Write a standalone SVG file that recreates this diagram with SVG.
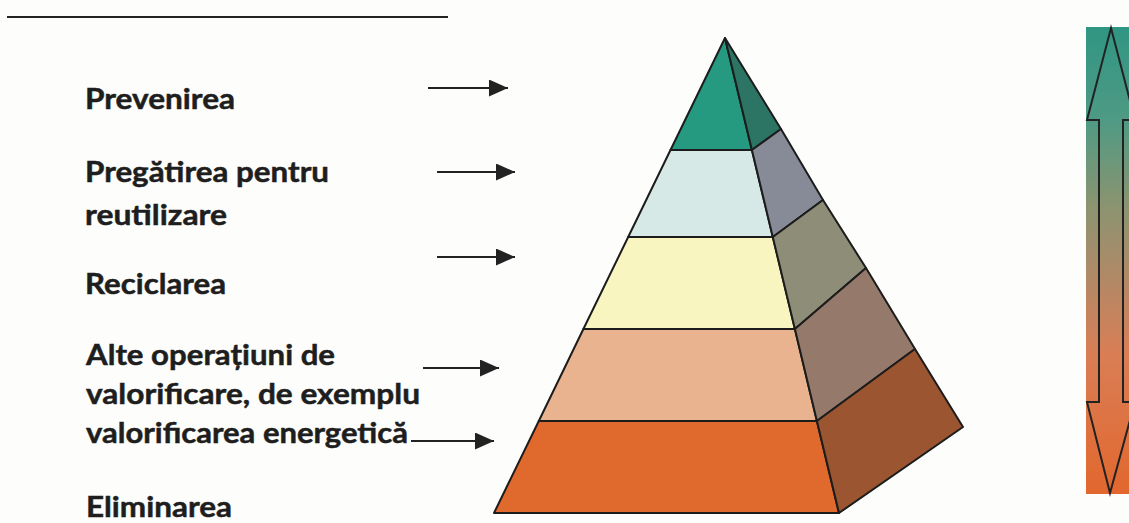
<svg xmlns="http://www.w3.org/2000/svg" width="1129" height="523" viewBox="0 0 1129 523">
  <defs>
    <linearGradient id="barGrad" x1="0" y1="0" x2="0" y2="1">
      <stop offset="0" stop-color="#2f9683"/>
      <stop offset="0.2" stop-color="#4f9a84"/>
      <stop offset="0.38" stop-color="#8a9470"/>
      <stop offset="0.52" stop-color="#ad8a68"/>
      <stop offset="0.7" stop-color="#d97e55"/>
      <stop offset="1" stop-color="#e2672e"/>
    </linearGradient>
    <marker id="ah" markerUnits="userSpaceOnUse" markerWidth="19" markerHeight="17" refX="19" refY="8.5" orient="auto">
      <path d="M0,0 L19,8.5 L0,17 z" fill="#222"/>
    </marker>
    <style>
      .lbl { font-family: Lato, "Open Sans", "Liberation Sans", sans-serif; font-weight: bold; font-size: 29px; fill: #1e1e1e; stroke: #1e1e1e; stroke-width: 0.5px; }
      .edge { stroke: #1c1c1c; stroke-width: 2; stroke-linejoin: round; }
      .conn { stroke: #222; stroke-width: 2; fill: none; marker-end: url(#ah); }
    </style>
  </defs>
  <rect width="1129" height="523" fill="#fdfdfb"/>
  <line x1="7" y1="17" x2="448" y2="17" stroke="#222" stroke-width="2.2"/>

  <g id="label-prevenirea"><text class="lbl" x="85" y="109" textLength="150" lengthAdjust="spacingAndGlyphs">Prevenirea</text></g>
  <g id="label-pregatirea">
    <text class="lbl" x="85" y="182" textLength="244" lengthAdjust="spacingAndGlyphs">Pregătirea pentru</text>
    <text class="lbl" x="85" y="225" textLength="142" lengthAdjust="spacingAndGlyphs">reutilizare</text>
  </g>
  <g id="label-reciclarea"><text class="lbl" x="85" y="294" textLength="141" lengthAdjust="spacingAndGlyphs">Reciclarea</text></g>
  <g id="label-alte">
    <text class="lbl" x="86" y="365" textLength="249" lengthAdjust="spacingAndGlyphs">Alte operațiuni de</text>
    <text class="lbl" x="86" y="404" textLength="334" lengthAdjust="spacingAndGlyphs">valorificare, de exemplu</text>
    <text class="lbl" x="86" y="443" textLength="322" lengthAdjust="spacingAndGlyphs">valorificarea energetică</text>
  </g>
  <g id="label-eliminarea"><text class="lbl" x="86" y="517" textLength="146" lengthAdjust="spacingAndGlyphs">Eliminarea</text></g>

  <g id="connectors">
    <line class="conn" x1="428" y1="88" x2="508" y2="88"/>
    <line class="conn" x1="437" y1="172" x2="515" y2="172"/>
    <line class="conn" x1="437" y1="257" x2="515" y2="257"/>
    <line class="conn" x1="423" y1="368" x2="499" y2="368"/>
    <line class="conn" x1="411" y1="441" x2="494" y2="441"/>
  </g>

  <g id="pyramid">
    <g id="layer-1">
      <polygon class="edge" fill="#269a80" points="725,38 751.9,150 670.5,150"/>
      <polygon class="edge" fill="#2c7464" points="725,38 781,129 751.9,150"/>
    </g>
    <g id="layer-2">
      <polygon class="edge" fill="#d7e9e7" points="670.5,150 751.9,150 772.8,237 628.2,237"/>
      <polygon class="edge" fill="#868b97" points="751.9,150 781,129 823,200 772.8,237"/>
    </g>
    <g id="layer-3">
      <polygon class="edge" fill="#f8f5c0" points="628.2,237 772.8,237 794.9,329 583.4,329"/>
      <polygon class="edge" fill="#8e8d78" points="772.8,237 823,200 866,268 794.9,329"/>
    </g>
    <g id="layer-4">
      <polygon class="edge" fill="#e8b38e" points="583.4,329 794.9,329 816.9,421 538.8,421"/>
      <polygon class="edge" fill="#957a6b" points="794.9,329 866,268 915,349 816.9,421"/>
    </g>
    <g id="layer-5">
      <polygon class="edge" fill="#e0692d" points="538.8,421 816.9,421 839,513 494,513"/>
      <polygon class="edge" fill="#9b5631" points="816.9,421 915,349 963,427 839,513"/>
    </g>
  </g>

  <g id="scale-bar">
    <rect x="1086" y="27" width="50" height="467" fill="url(#barGrad)"/>
    <polygon fill="none" stroke="#222" stroke-width="2" stroke-linejoin="miter" points="1111,28 1135,120 1123,120 1123,402 1135,402 1110,493 1087,402 1099,402 1099,120 1087,120"/>
  </g>
</svg>
